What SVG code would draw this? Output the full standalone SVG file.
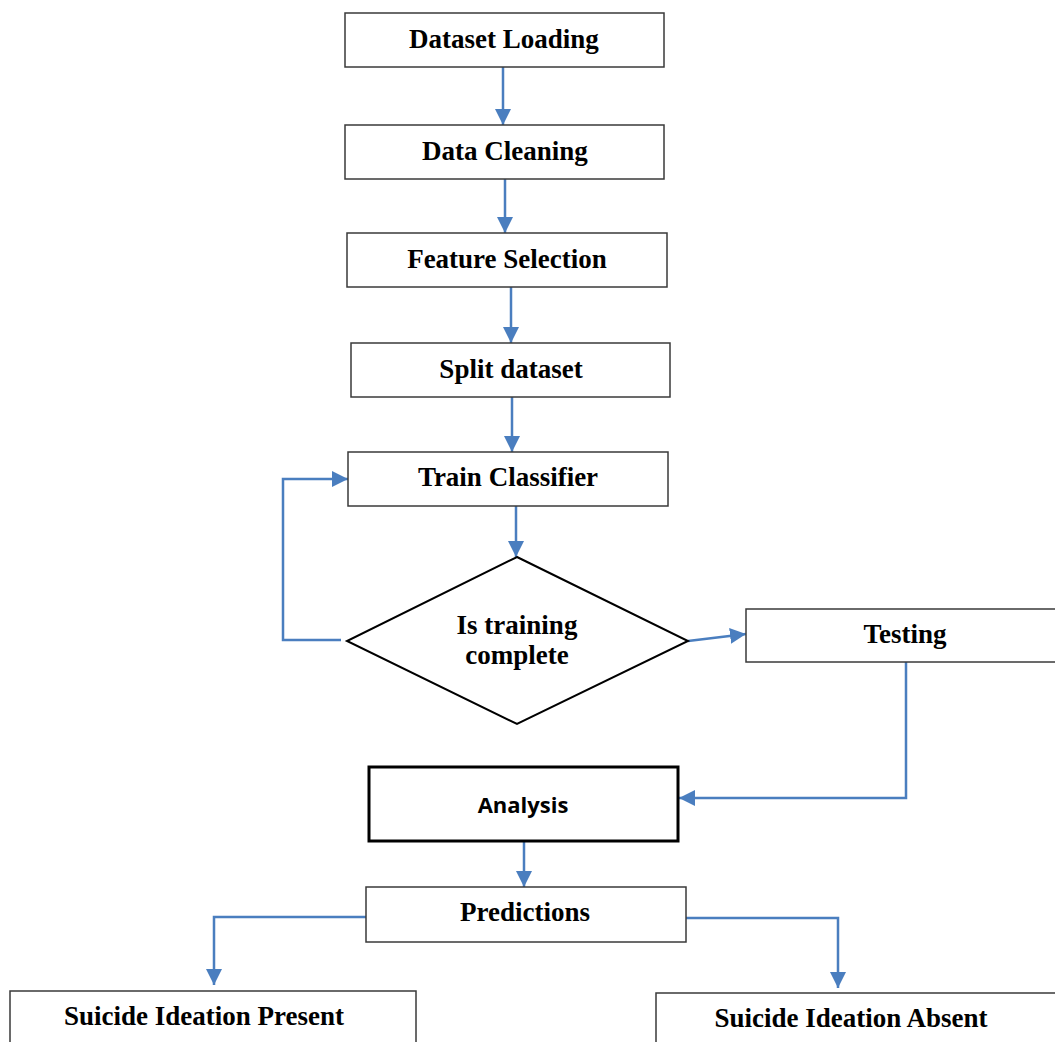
<svg xmlns="http://www.w3.org/2000/svg" width="1055" height="1042" viewBox="0 0 1055 1042">
<style>
.box{fill:#fff;stroke:#3a3a3a;stroke-width:1.5}
.t{font-family:"Liberation Serif","Times New Roman",serif;font-weight:bold;font-size:27px;fill:#000;text-anchor:middle}
.c{fill:none;stroke:#4a7ebf;stroke-width:2.5;marker-end:url(#ah)}
</style>
<defs>
<marker id="ah" markerUnits="userSpaceOnUse" markerWidth="16" markerHeight="16" viewBox="0 0 10 10" refX="10" refY="5" orient="auto">
<path d="M0,0 L10,5 L0,10 z" fill="#4a7ebf"/>
</marker>
</defs>
<rect width="1055" height="1042" fill="#fff"/>
<g id="connectors">
<path class="c" d="M503,67 V125"/>
<path class="c" d="M505,179 V233"/>
<path class="c" d="M511,287 V343"/>
<path class="c" d="M512,397 V452"/>
<path class="c" d="M516,506 V557"/>
<path class="c" d="M341,640 H283 V479 H348"/>
<path class="c" d="M688,641 L746,634"/>
<path class="c" d="M906,662 V798 H679"/>
<path class="c" d="M524,842 V887"/>
<path class="c" d="M366,917 H214 V985"/>
<path class="c" d="M686,918 H838 V988"/>
</g>
<g id="n1"><rect class="box" x="345" y="13" width="319" height="54"/><text class="t" x="504" y="48">Dataset Loading</text></g>
<g id="n2"><rect class="box" x="345" y="125" width="319" height="54"/><text class="t" x="505" y="160">Data Cleaning</text></g>
<g id="n3"><rect class="box" x="347" y="233" width="320" height="54"/><text class="t" x="507" y="268">Feature Selection</text></g>
<g id="n4"><rect class="box" x="351" y="343" width="319" height="54"/><text class="t" x="511" y="378">Split dataset</text></g>
<g id="n5"><rect class="box" x="348" y="452" width="320" height="54"/><text class="t" x="508" y="486">Train Classifier</text></g>
<g id="n6"><polygon points="517,557 688,641 517,724 347,641" fill="#fff" stroke="#000" stroke-width="2"/><text class="t" x="517" y="634">Is training</text><text class="t" x="517" y="664">complete</text></g>
<g id="n7"><rect class="box" x="746" y="609" width="320" height="53"/><text class="t" x="905" y="643">Testing</text></g>
<g id="n8"><rect x="369" y="767" width="309" height="74" fill="#fff" stroke="#000" stroke-width="3"/><text x="523" y="813" font-family="'Open Sans','Noto Sans',sans-serif" font-weight="bold" font-size="22" text-anchor="middle">Analysis</text></g>
<g id="n9"><rect class="box" x="366" y="887" width="320" height="55"/><text class="t" x="525" y="921">Predictions</text></g>
<g id="n10"><rect class="box" x="10" y="991" width="406" height="60"/><text class="t" x="204" y="1025" font-size="30">Suicide Ideation Present</text></g>
<g id="n11"><rect class="box" x="656" y="993" width="410" height="60"/><text class="t" x="851" y="1027" font-size="30">Suicide Ideation Absent</text></g>
</svg>
